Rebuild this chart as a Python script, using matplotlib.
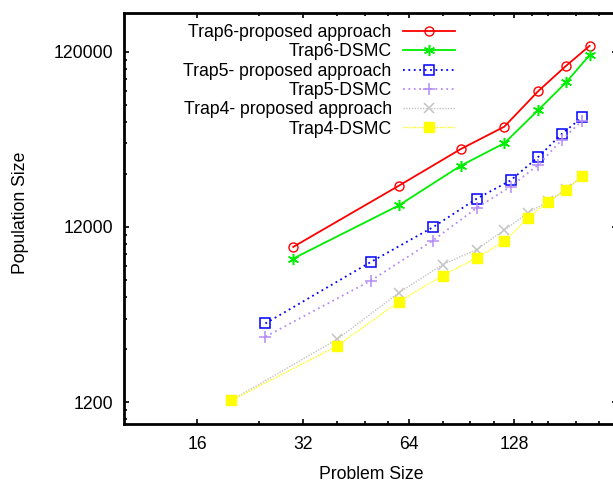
import numpy as np
import matplotlib
matplotlib.use("Agg")
import matplotlib.pyplot as plt
from matplotlib.ticker import FixedLocator, FixedFormatter, NullFormatter

plt.rcParams['font.family'] = ['Liberation Sans', 'DejaVu Sans']

# problem sizes
x_trap6 = [30, 60, 90, 120, 150, 180, 210]
x_trap5 = [25, 50, 75, 100, 125, 150, 175, 200]
x_trap4 = [20, 40, 60, 80, 100, 120, 140, 160, 180, 200]

# population sizes
trap6_prop = [9230, 20630, 33370, 44880, 71680, 99900, 129800]
trap6_dsmc = [7920, 15930, 26810, 36100, 55870, 80330, 114900]
trap5_prop = [3376, 7583, 11940, 17390, 22110, 30160, 40790, 50760]
trap5_dsmc = [2837, 5934, 10030, 15390, 20430, 27170, 37700, 48550]
trap4_prop = [1230, 2738, 5050, 7319, 8910, 11540, 14410, 16800, 19700, 23400]
trap4_dsmc = [1227, 2507, 4488, 6338, 7992, 9934, 13500, 16660, 19570, 23310]

labels = ["Trap6-proposed approach", "Trap6-DSMC",
          "Trap5- proposed approach", "Trap5-DSMC",
          "Trap4- proposed approach", "Trap4-DSMC"]

xticks = [16, 32, 64, 128]
xminor = [24, 40, 48, 56, 80, 96, 112, 144, 160, 192, 224]
yticks = [1200, 12000, 120000]
yminor = [960, 1080] + [1200 * k for k in range(2, 10)] + [12000 * k for k in range(2, 10)]

fs = 12.7
fig = plt.figure(figsize=(6.13, 4.83), dpi=100)
ax = fig.add_axes([0.2028, 0.1222, 0.8043, 0.8509])
ax.set_xscale('log', base=2)
ax.set_yscale('log')

ax.plot(x_trap6, trap6_prop, color='#ff0000', lw=1.3, marker='o', ms=6.5,
        mfc='none', mec='#ff0000', mew=1.0, label=labels[0])
ax.plot(x_trap6, trap6_dsmc, color='#00ee00', lw=1.3, marker=(6, 2, 0), ms=8,
        mec='#00ee00', mew=1.1, label=labels[1])
ax.plot(x_trap5, trap5_prop, color='#0000ff', lw=1.3, ls=(0, (1, 2)), marker='s',
        ms=6.5, mfc='none', mec='#0000ff', mew=1.1, label=labels[2])
ax.plot(x_trap5, trap5_dsmc, color='#b58cf5', lw=1.3, ls=(0, (1, 2)), marker='+',
        ms=8, mew=1.1, label=labels[3])
ax.plot(x_trap4, trap4_prop, color='#c4c4c4', lw=1.0, ls=(0, (1, 1)), marker='x',
        ms=7, mew=1.1, label=labels[4])
ax.plot(x_trap4, trap4_dsmc, color='#ffff00', lw=1.0, ls=(0, (1, 1)), marker='s',
        ms=7, mec='#ffff00', mfc='#ffff00', label=labels[5])

ax.set_xlim(9.9, 252)
ax.set_ylim(900, 200000)

ax.xaxis.set_major_locator(FixedLocator(xticks))
ax.xaxis.set_major_formatter(FixedFormatter([str(v) for v in xticks]))
ax.xaxis.set_minor_locator(FixedLocator(xminor))
ax.xaxis.set_minor_formatter(NullFormatter())
ax.yaxis.set_major_locator(FixedLocator(yticks))
ax.yaxis.set_major_formatter(FixedFormatter([str(v) for v in yticks]))
ax.yaxis.set_minor_locator(FixedLocator(yminor))
ax.yaxis.set_minor_formatter(NullFormatter())

for s in ax.spines.values():
    s.set_linewidth(2.0)
ax.tick_params(which='both', direction='in', top=True, right=True, width=1.2,
               labelsize=fs, colors='black')
ax.tick_params(which='major', length=3.8)
ax.tick_params(which='minor', length=2.2)
ax.tick_params(axis='x', which='major', pad=9.0)
ax.tick_params(axis='y', which='major', pad=7.9)

ax.set_xlabel("Problem Size", fontsize=fs, labelpad=9)
ax.set_ylabel("Population Size", fontsize=fs, labelpad=19)
ax.yaxis.set_label_coords(-0.194, 0.513)

# text on the left, sample on the right; rows come out right-aligned
ax.legend(loc='upper right', bbox_to_anchor=(0.671, 0.973), frameon=False,
          markerfirst=False, fontsize=fs, handlelength=2.94,
          handletextpad=0.66, labelspacing=0.13, borderpad=0.0,
          borderaxespad=0.0)

fig.savefig("out.png", dpi=100)
